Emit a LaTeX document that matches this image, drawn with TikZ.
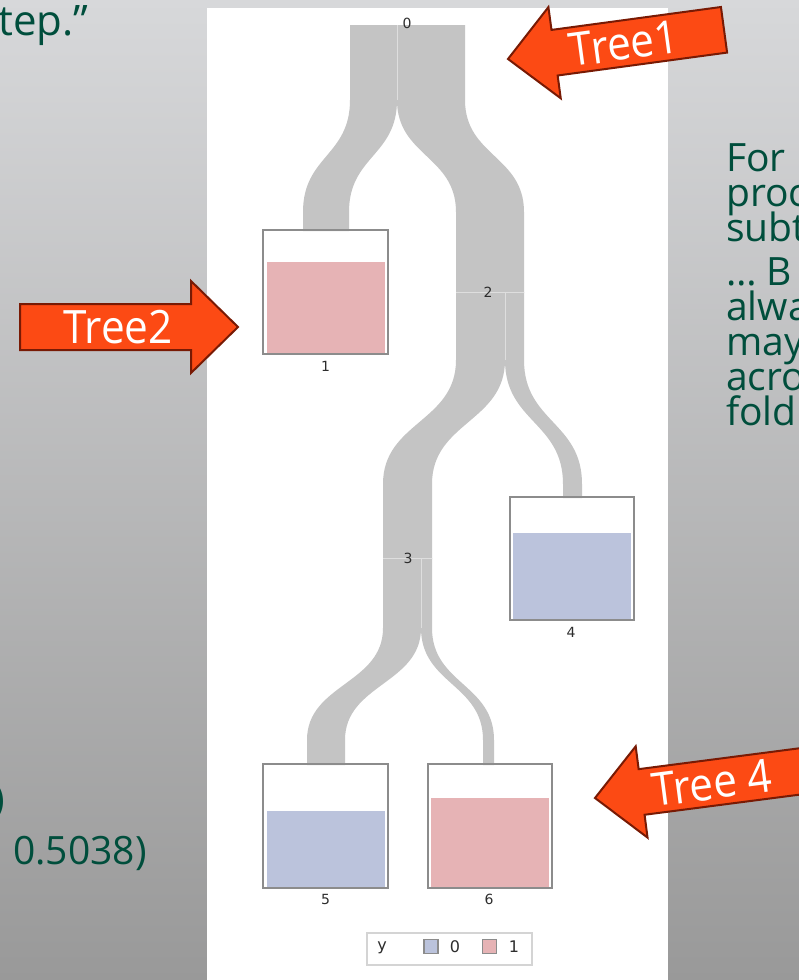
\documentclass[tikz,border=0pt]{standalone}
\usepackage{fontspec}
\setmainfont{Open Sans}
\newfontfamily\slidefont{Open Sans}
\newfontfamily\calloutfont[FakeStretch=0.92]{Open Sans}
\newfontfamily\plotfont{DejaVu Sans}

\definecolor{slidegreen}{RGB}{0,78,60}
\definecolor{bgtop}{RGB}{215,216,218}
\definecolor{bgmid}{RGB}{196,197,198}
\definecolor{bgbot}{RGB}{153,153,153}
\definecolor{flowgray}{RGB}{196,196,196}
\definecolor{flowline}{RGB}{222,222,222}
\definecolor{pinkfill}{RGB}{230,179,181}
\definecolor{bluefill}{RGB}{187,195,220}
\definecolor{boxedge}{RGB}{140,140,140}
\definecolor{legendedge}{RGB}{212,212,212}
\definecolor{labelgray}{RGB}{45,45,45}
\definecolor{arrowfill}{RGB}{252,74,20}
\definecolor{arrowedge}{RGB}{120,26,4}

% one flow band: top span #1..#2 at y=#3, bends between y=#4 and y=#5,
% bottom span #6..#7, ends at y=#8
\newcommand\flowband[8]{%
  \fill[flowgray] (#1,#3) -- (#1,#4)
    .. controls (#1,{(#4+#5)/2}) and (#6,{(#4+#5)/2}) .. (#6,#5)
    -- (#6,#8) -- (#7,#8) -- (#7,#5)
    .. controls (#7,{(#4+#5)/2}) and (#2,{(#4+#5)/2}) .. (#2,#4)
    -- (#2,#3) -- cycle;}

\tikzset{
  slidetext/.style={text=slidegreen, inner sep=0pt,
    font=\slidefont\fontsize{39}{39}\selectfont},
  arrowtext/.style={text=white, inner sep=0pt,
    font=\calloutfont\fontsize{46}{46}\selectfont},
  plotlabel/.style={text=labelgray, inner sep=0pt,
    font=\plotfont\fontsize{14}{14}\selectfont},
  leafbox/.style={draw=boxedge, line width=1.4pt, inner sep=0pt,
    minimum width=125pt, minimum height=124pt},
  legendsq/.style={draw=boxedge, line width=1.2pt, inner sep=0pt,
    minimum size=14pt},
  divider/.style={draw=flowline, line width=0.8pt},
  bigarrow/.pic={
    \draw[fill=arrowfill, draw=arrowedge, line width=2pt, line join=miter]
      (0,0) -- (47,-46) -- (47,-23) -- (218,-23) -- (218,23)
      -- (47,23) -- (47,46) -- cycle;}
}

\begin{document}
\begin{tikzpicture}[x=1pt, y=-1pt]
  \useasboundingbox (0,0) rectangle (799,980);

  % slide background and plot panel
  \shade[top color=bgtop, middle color=bgmid, bottom color=bgbot]
    (0,0) rectangle (799,980);
  \fill[white] (207,8) rectangle (668,980);

  % slide text
  \node[slidetext, anchor=base west, font=\slidefont\fontsize{42}{42}\selectfont]
    (topword) at (-2,35) {tep.”};
  \node[slidetext, anchor=base east] (paren) at (5,812) {)};
  \node[slidetext, anchor=base west] (value) at (13,864) {0.5038)};

  \node[slidetext, anchor=base west] (r1) at (726,171) {For};
  \node[slidetext, anchor=base west] (r2) at (726,206) {proc};
  \node[slidetext, anchor=base west] (r3) at (726,241) {subt};
  \node[slidetext, anchor=base west] (r4) at (726,285) {… B};
  \node[slidetext, anchor=base west] (r5) at (726,320) {alwa};
  \node[slidetext, anchor=base west] (r6) at (726,355) {may};
  \node[slidetext, anchor=base west] (r7) at (726,390) {acro};
  \node[slidetext, anchor=base west] (r8) at (726,425) {fold};

  % tree flows
  \flowband{350}{397}{25}{100}{212}{303}{349}{231}
  \flowband{397}{465}{25}{100}{212}{456}{524}{293}
  \flowband{456}{505}{292}{360}{484}{383}{432}{559}
  \flowband{505}{524}{292}{360}{484}{563}{582}{498}
  \flowband{383}{421}{558}{628}{740}{307}{345}{765}
  \flowband{421}{432}{558}{628}{740}{483}{494}{765}

  % split markers
  \draw[divider] (397,25) -- (397,100);
  \draw[divider] (456,292) -- (524,292);
  \draw[divider] (505,292) -- (505,360);
  \draw[divider] (383,558) -- (432,558);
  \draw[divider] (421,558) -- (421,628);

  % internal node labels
  \node[plotlabel] (n0) at (407,23) {0};
  \node[plotlabel] (n2) at (488,292) {2};
  \node[plotlabel] (n3) at (408,558) {3};

  % leaves: class bars, frames and labels
  \fill[pinkfill] (266.5,262) rectangle (385,352.5);
  \fill[bluefill] (513,533) rectangle (631,618.5);
  \fill[bluefill] (266.5,811) rectangle (385,886.5);
  \fill[pinkfill] (431,798) rectangle (549,886.5);

  \node[leafbox] (leaf1) at (325.5,292) {};
  \node[leafbox, minimum width=124pt, minimum height=123pt] (leaf4) at (572,558.5) {};
  \node[leafbox] (leaf5) at (325.5,826) {};
  \node[leafbox, minimum width=124pt] (leaf6) at (490,826) {};

  \node[plotlabel] (l1) at (325.5,366) {1};
  \node[plotlabel] (l4) at (571,632) {4};
  \node[plotlabel] (l5) at (325.5,899) {5};
  \node[plotlabel] (l6) at (489,899) {6};

  % legend
  \node[draw=legendedge, line width=1.2pt, inner sep=0pt,
        minimum width=165pt, minimum height=32pt] (legend) at (449.5,949) {};
  \node[plotlabel, font=\plotfont\fontsize{16}{16}\selectfont] (ly) at (382,948) {y};
  \node[legendsq, fill=bluefill] (sq0) at (431,946.5) {};
  \node[plotlabel, font=\plotfont\fontsize{16}{16}\selectfont] (ly0) at (455,947) {0};
  \node[legendsq, fill=pinkfill] (sq1) at (489.5,946.5) {};
  \node[plotlabel, font=\plotfont\fontsize{16}{16}\selectfont] (ly1) at (514,947) {1};

  % callout arrows
  \pic[rotate=7.7] (tree1arrow) at (508,59) {bigarrow};
  \node[arrowtext, rotate=7.7] (tree1) at (624,43.5) {Tree1};

  \pic[rotate=180] (tree2arrow) at (238,327) {bigarrow};
  \node[arrowtext] (tree2) at (118,327) {Tree2};

  \pic[rotate=7.4] (tree4arrow) at (595,798) {bigarrow};
  \node[arrowtext, rotate=7.4] (tree4) at (712,783) {Tree 4};
\end{tikzpicture}
\end{document}
